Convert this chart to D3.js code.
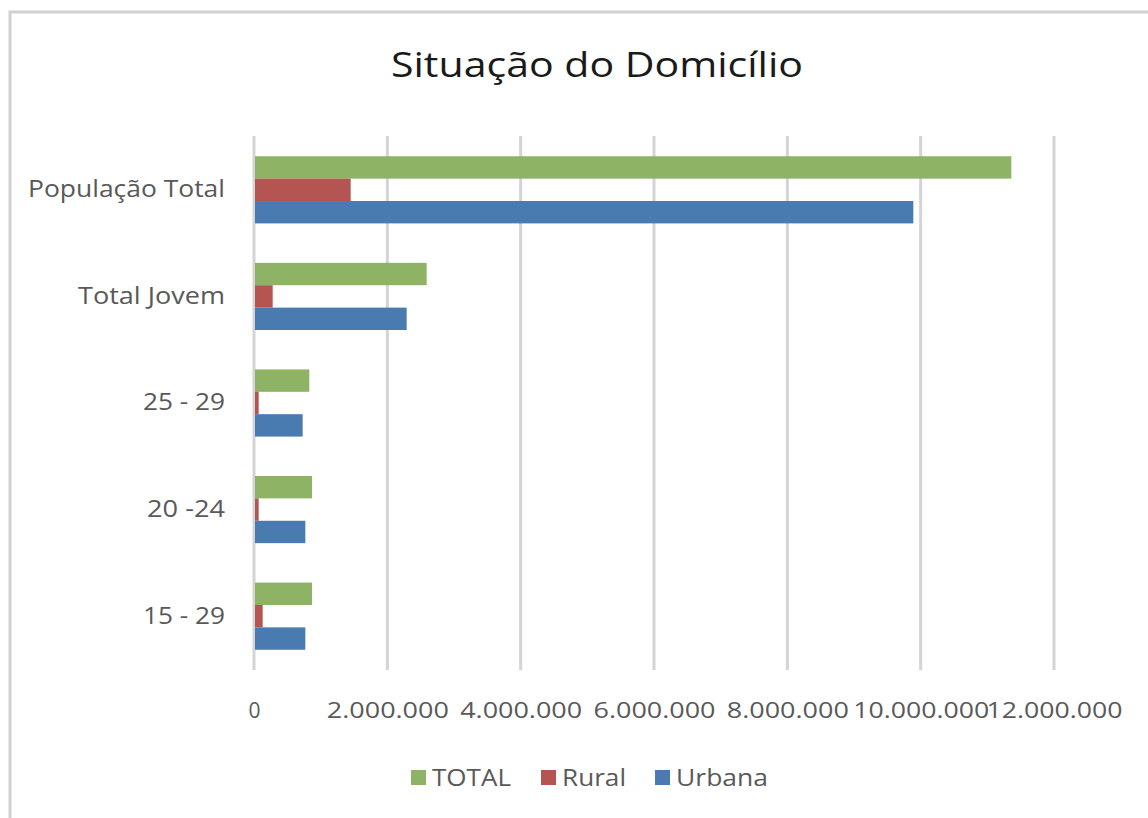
<!DOCTYPE html>
<html>
<head>
<meta charset="utf-8">
<script src="https://cdn.jsdelivr.net/npm/d3@7"></script>
<style>
  body { margin: 0; background: #fff; }
  text { font-family: "Open Sans", "Liberation Sans", sans-serif; }
</style>
</head>
<body>
<svg id="chart" width="1148" height="818"></svg>
<script>
var categories = ["População Total", "Total Jovem", "25 - 29", "20 -24", "15 - 29"];
var seriesNames = ["TOTAL", "Rural", "Urbana"];
var totalVals = [11360000, 2590000, 830000, 870000, 870000];
var ruralVals = [1450000, 280000, 70000, 70000, 130000];
var urbanaVals = [9890000, 2290000, 730000, 770000, 770000];
var tickVals = [0, 2000000, 4000000, 6000000, 8000000, 10000000, 12000000];
var colors = ["#8eb365", "#b45551", "#4a7bb0"];

var svg = d3.select("#chart"),
    margin = {top: 136, left: 254, right: 94, bottom: 148},
    width = +svg.attr("width") - margin.left - margin.right,
    height = +svg.attr("height") - margin.top - margin.bottom;

// outer frame of the chart area
svg.append("path")
    .attr("d", "M10,818 V12 H1148")
    .attr("fill", "none")
    .attr("stroke", "#d0d0d0")
    .attr("stroke-width", 3);

svg.append("text")
    .attr("x", 597)
    .attr("y", 77)
    .attr("text-anchor", "middle")
    .attr("font-size", 35)
    .attr("fill", "#1a1a1a")
    .attr("textLength", 412)
    .attr("lengthAdjust", "spacingAndGlyphs")
    .text("Situação do Domicílio");

var rows = categories.map(function (c, i) {
    return {name: c, vals: [totalVals[i], ruralVals[i], urbanaVals[i]]};
});

var x = d3.scaleLinear().domain([0, 12000000]).range([0, width]);
var y = d3.scaleBand().domain(categories).range([0, height]).paddingInner(0.37).paddingOuter(0.19);
var ySub = d3.scaleBand().domain(d3.range(3)).range([0, y.bandwidth()]);

var g = svg.append("g")
    .attr("transform", "translate(" + margin.left + "," + margin.top + ")");

// grid
g.selectAll("line.grid")
    .data(tickVals)
    .enter().append("line")
    .attr("class", "grid")
    .attr("x1", function (d) { return x(d); })
    .attr("x2", function (d) { return x(d); })
    .attr("y1", 0)
    .attr("y2", height)
    .attr("stroke", "#d4d4d4")
    .attr("stroke-width", 3);

var groups = g.selectAll("g.cat")
    .data(rows)
    .enter().append("g")
    .attr("class", "cat")
    .attr("transform", function (d) { return "translate(0," + y(d.name) + ")"; });

groups.selectAll("rect")
    .data(function (d) { return d.vals; })
    .enter().append("rect")
    .attr("x", x(0) + 1)
    .attr("y", function (d, i) { return ySub(i); })
    .attr("height", ySub.bandwidth())
    .attr("width", function (d) { return x(d) - 1; })
    .attr("fill", function (d, i) { return colors[i]; });

// x axis labels
var fmt = function (d) { return d === 0 ? "0" : d3.format(",")(d).replace(/,/g, "."); };
var xAxis = g.append("g")
    .attr("transform", "translate(0," + height + ")")
    .call(d3.axisBottom(x).tickValues(tickVals).tickFormat(fmt).tickSize(0).tickPadding(33));
xAxis.select(".domain").remove();
xAxis.selectAll("text")
    .attr("font-size", 21)
    .attr("fill", "#595959")
    .attr("textLength", function (d) { return d === 0 ? null : (d >= 10000000 ? 136 : 122); })
    .attr("lengthAdjust", "spacingAndGlyphs")
    .style("font-family", "'Open Sans', sans-serif");

// y axis labels (the original's font is wider, so stretch them)
var yLabelWidth = {"População Total": 197, "Total Jovem": 147, "25 - 29": 82, "20 -24": 78, "15 - 29": 82};
var yAxis = g.append("g")
    .call(d3.axisLeft(y).tickSize(0).tickPadding(29));
yAxis.select(".domain").remove();
yAxis.selectAll("text")
    .attr("font-size", 23)
    .attr("fill", "#595959")
    .attr("textLength", function (d) { return yLabelWidth[d]; })
    .attr("lengthAdjust", "spacingAndGlyphs")
    .style("font-family", "'Open Sans', sans-serif");

// legend
var legendX = [411, 541, 655];
var legendW = [79, 64, 92];
var legend = svg.selectAll("g.leg")
    .data(seriesNames)
    .enter().append("g")
    .attr("class", "leg")
    .attr("transform", function (d, i) { return "translate(" + legendX[i] + ",770)"; });
legend.append("rect")
    .attr("width", 15).attr("height", 15)
    .attr("fill", function (d, i) { return colors[i]; });
legend.append("text")
    .attr("x", 21)
    .attr("y", 16)
    .attr("font-size", 23)
    .attr("fill", "#595959")
    .attr("textLength", function (d, i) { return legendW[i]; })
    .attr("lengthAdjust", "spacingAndGlyphs")
    .text(function (d) { return d; });
</script>
</body>
</html>
